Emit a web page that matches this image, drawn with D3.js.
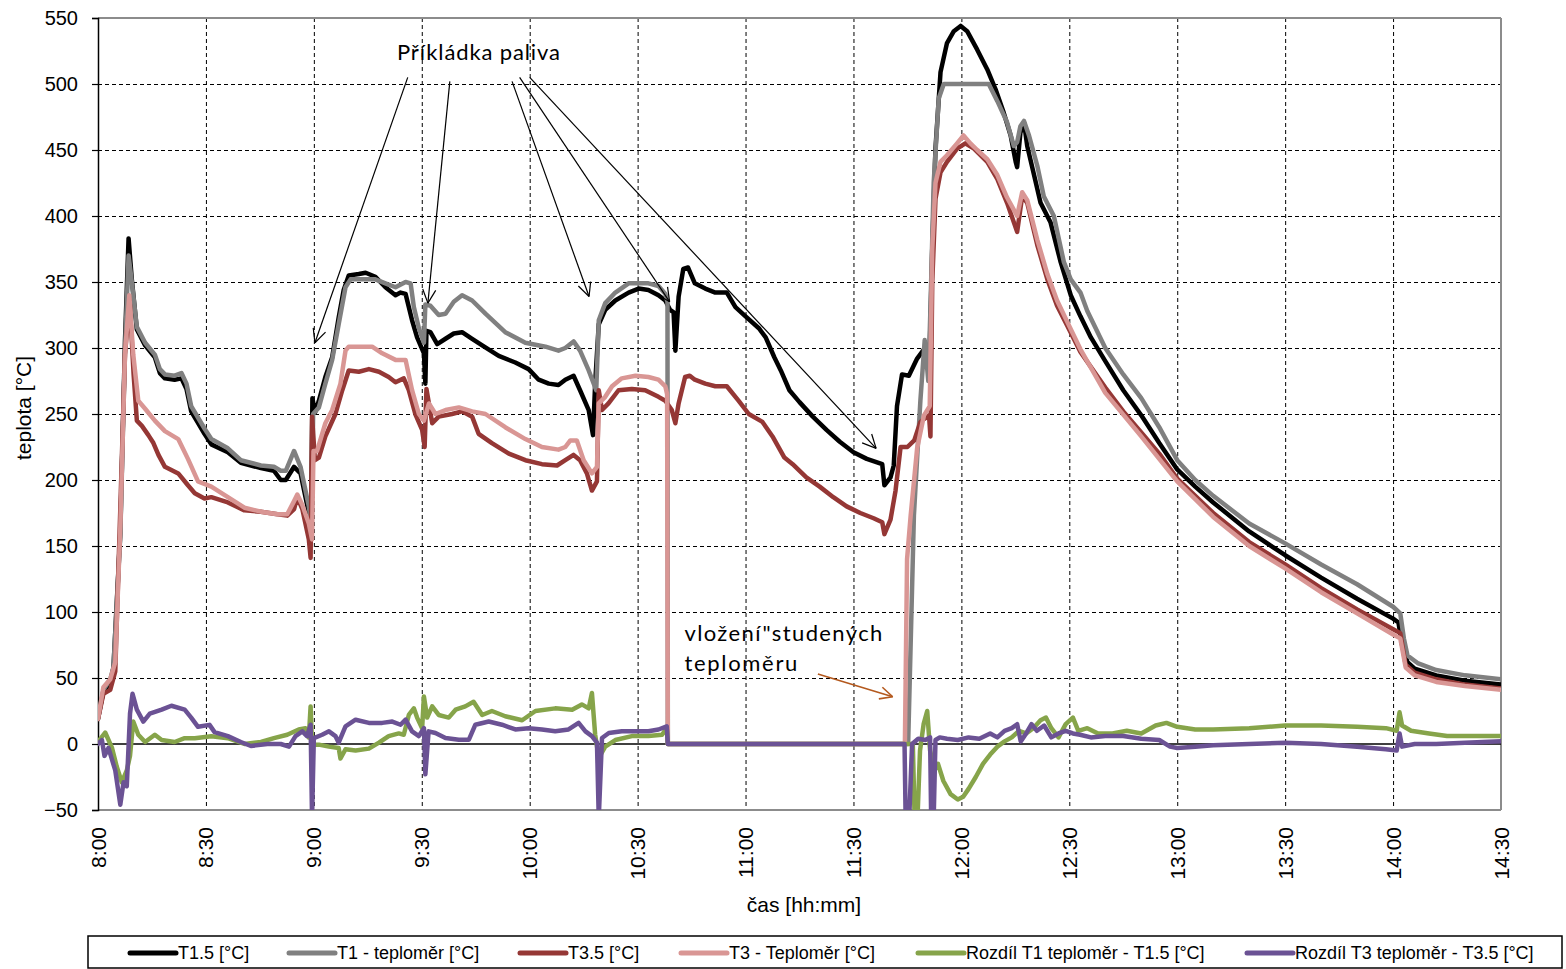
<!DOCTYPE html>
<html><head><meta charset="utf-8">
<script src="https://cdn.jsdelivr.net/npm/d3@7"></script>
<style>body{margin:0;background:#fff}svg{display:block}</style>
</head><body>
<svg id="c" width="1566" height="969"></svg>
<script>
// ---------- DATA (time = minutes after 8:00, value = °C) ----------
const xTickLabels = ["8:00","8:30","9:00","9:30","10:00","10:30","11:00","11:30","12:00","12:30","13:00","13:30","14:00","14:30"];
const yTickValues = [-50,0,50,100,150,200,250,300,350,400,450,500,550];
const seriesNames = ["T1.5 [°C]","T1 - teploměr [°C]","T3.5 [°C]","T3 - Teploměr [°C]","Rozdíl T1 teploměr - T1.5 [°C]","Rozdíl T3 teploměr - T3.5 [°C]"];

const T15 = [[0,19],[1.5,40],[3.4,46],[4.3,58],[6.2,160],[7.5,305],[8.5,383],[9.4,352],[10.8,314],[13.1,302],[15.8,293],[17.2,281],[18.6,277],[21.3,276],[23.2,277],[24.6,269],[25.9,252],[29.6,235],[31.5,227],[36.1,221],[39.7,213],[45.3,209],[48.9,207],[50.8,200],[52.2,200],[54.5,210],[56.3,205],[58.6,175],[59.2,155],[59.6,262],[60.3,251],[61.4,260],[63.2,278],[65.1,293],[66.9,323],[68.3,344],[69.7,355],[72.5,356],[74.4,357],[77.1,354],[79.9,346],[82.7,340],[84.1,342],[85.5,341],[87.3,321],[88.7,308],[90.6,296],[91,273],[91.3,313],[92.4,312],[94.3,303],[96.6,307],[98.9,311],[101.2,312],[104,307],[106.8,302],[111.4,294],[116,289],[119.7,284],[122.5,276],[125.3,273],[128,272],[129.9,276],[132.2,279],[134,268],[136.4,253],[137.6,234],[138.2,273],[139.2,318],[141,329],[143.8,336],[147.5,342],[150.3,345],[153,344],[155.8,340],[157.7,336],[159,329],[160,327],[160.5,298],[161.4,339],[162.7,360],[164,361],[165.9,349],[168.8,345],[171.6,342],[174.8,342],[177.2,331],[180,324],[183.7,315],[185.6,308],[188,293],[189.8,283],[192.2,268],[195,259],[198.7,248],[202.5,238],[206.2,229],[210,221],[213.7,216],[218,212],[218.6,196],[220.3,202],[221.2,211],[222.1,256],[223.5,280],[225.4,279],[227.7,292],[229.6,299],[230.5,300],[231,275],[231.9,375],[232.8,451],[234.2,509],[236,531],[237.9,540],[239.8,544],[241.6,540],[244.4,526],[247.2,511],[249.5,496],[251.8,478],[253.7,461],[255.1,441],[255.5,437],[256.4,463],[257.4,471],[258.3,453],[260.2,431],[262,410],[264.8,395],[267.6,365],[270.4,340],[273.1,324],[276,308],[280,290],[285,268],[290,249],[295,228],[300,208],[305,195],[310,183],[320,161],[330,143],[340,126],[350,110],[360,95],[361.5,92],[362.5,75],[364,62],[366,57],[372,52],[380,48],[390,45]];

const T1 = [[0,19],[1.5,41],[3.4,49],[4.3,58],[6.2,158],[7.5,298],[8.5,370],[9.4,350],[10.8,316],[13.1,304],[15.8,295],[17.2,284],[18.6,280],[21.3,279],[23.2,281],[24.6,273],[25.9,256],[29.6,239],[31.5,231],[36.1,224],[39.7,215],[45.3,211],[48.9,210],[50.8,207],[52.2,207],[54.5,222],[56.3,210],[58.6,180],[59.4,165],[59.8,250],[61.4,255],[63.2,273],[65.1,291],[66.9,318],[68.8,346],[70.2,352],[74.4,352],[77.1,352],[79.9,349],[82.7,346],[85.5,350],[86.9,349],[87.8,331],[89.2,315],[90.6,304],[91,333],[92.4,332],[94.7,325],[96.6,326],[98.9,335],[101.2,340],[104,336],[107.7,326],[113.2,312],[118.8,304],[124.4,301],[128,298],[129.9,300],[132.2,305],[134,298],[136.4,283],[137.8,273],[138.5,268],[139.2,321],[141,334],[143.8,342],[147.5,349],[153,349],[155.8,347],[157.7,341],[158.3,335],[158.4,0],[225.2,0],[226.8,173],[228.6,260],[229.8,306],[230.8,275],[231.4,330],[232.3,425],[233.7,489],[235.1,500],[247.6,500],[250,487],[252.7,471],[254.6,453],[255.5,456],[256.4,468],[257.4,472],[258.8,461],[261.1,438],[262.9,415],[265.7,400],[268.5,365],[270.4,352],[273.1,342],[275,328],[280,300],[285,280],[290,262],[295,240],[300,215],[305,200],[310,188],[320,167],[330,152],[340,136],[350,121],[360,104],[362,99],[363,80],[364,67],[367,61],[372,56],[380,52],[390,49]];

const T35 = [[0,19],[1.5,38],[3.4,41],[4.8,55],[6.2,178],[7.5,295],[8.8,336],[9.9,280],[10.8,245],[12.2,241],[14,234],[15.4,228],[16.8,219],[18.6,210],[22.3,205],[25,196],[26.9,190],[29.6,186],[31.5,187],[36.1,183],[40.7,177],[45.3,176],[49.9,174],[52.6,173],[54.5,178],[55.4,187],[56.8,178],[58.6,155],[59.1,141],[59.5,248],[60.3,215],[61.4,217],[63.2,233],[66,250],[67.9,268],[69.7,283],[72.5,282],[75.3,284],[78.1,282],[80.8,278],[82.7,274],[85,277],[86.4,268],[88.2,250],[90.1,238],[90.8,225],[91.3,269],[92.9,243],[94.7,248],[98.4,250],[101.2,252],[104,248],[105.8,235],[109.5,228],[114.2,220],[118.8,215],[123.4,212],[127.6,211],[129.9,215],[132.2,219],[134,215],[135.9,205],[137.3,192],[138.7,199],[139.2,268],[140.1,253],[141.9,258],[144.7,268],[148.4,269],[152.1,268],[155.8,263],[157.7,260],[159.5,253],[160.5,243],[161.4,258],[163.2,278],[164.5,279],[165.9,276],[168.8,273],[171.6,271],[174.8,271],[178.1,260],[180.9,250],[184.7,244],[187.5,233],[190.8,217],[193.1,212],[196.9,202],[200.6,195],[204.4,187],[208.1,180],[211.9,175],[215.6,171],[218,168],[218.6,159],[220.3,170],[221.7,192],[223.1,225],[225,225],[226.9,230],[228.6,244],[231,249],[231.4,233],[231.9,350],[232.8,413],[234.2,433],[236,441],[238.8,451],[241.1,455],[243.5,451],[247.2,441],[250,428],[252.7,410],[255.5,388],[256.9,415],[258.3,410],[261.1,378],[263.9,352],[266.6,332],[269.4,317],[273.1,297],[280,270],[285,252],[290,236],[295,220],[300,201],[310,175],[320,153],[330,136],[340,118],[350,102],[360,87],[362,84],[363.5,60],[366,54],[372,49],[380,45],[390,42]];

const T3 = [[0,19],[1.5,43],[3.4,49],[4.8,62],[6.2,164],[7.5,295],[8.7,340],[9.8,295],[11.2,260],[13.1,254],[15.8,245],[18.6,237],[22.3,231],[25,216],[27.8,199],[31.5,195],[36.1,187],[40.7,179],[45.3,176],[49.9,174],[52.6,174],[54.5,184],[55.4,189],[56.8,181],[58.6,167],[59.5,155],[59.9,222],[60.9,222],[63.2,243],[65.1,253],[67.4,273],[68.8,298],[69.7,301],[76.2,301],[79,296],[82.7,291],[85.5,291],[87.3,268],[89.2,250],[90.6,245],[92,258],[93.8,250],[96.6,253],[100.3,255],[104,252],[107.7,250],[113.2,240],[118.8,231],[123.4,225],[128,223],[129.9,225],[131.3,230],[133.1,230],[135,215],[137.3,205],[138.7,210],[139.2,258],[141,263],[142.9,271],[145.6,277],[149.4,279],[153,278],[155.8,276],[157.7,271],[158.2,265],[158.4,0],[224.3,0],[224.9,140],[225.9,173],[227.7,224],[229.6,249],[231.2,256],[231.9,375],[232.8,425],[234.2,441],[236,446],[238.8,455],[240.6,461],[242.5,455],[244.4,450],[247.2,443],[250,431],[252.7,414],[255.5,400],[256.9,418],[258.3,412],[261.1,382],[263.9,356],[266.6,336],[269.4,320],[273.1,299],[280,266],[290,233],[300,199],[310,172],[320,150],[330,133],[340,115],[350,99],[360,83],[362,80],[363.5,58],[366,52],[372,47],[380,44],[390,41]];

const D1 = [[0,1.5],[2,8.7],[3.9,-3],[5.2,-17],[6.6,-29],[8,-20],[8.9,-9],[9.8,17],[11.2,7],[13.1,1.5],[15.8,7],[17.7,3],[21.3,1.5],[24.1,4.4],[26.9,4.4],[31.5,5.8],[36.1,4.4],[40.7,0],[45.3,1.5],[48.9,4.4],[52.6,7],[55.8,11],[57.7,12],[58.6,5],[59.1,28.5],[59.5,-0.5],[61.4,-0.5],[64.2,-2],[66.9,-3],[67.4,-11],[68.8,-4],[71.6,-5],[75.3,-3.5],[78.1,1],[80.8,6],[83.6,8],[85,7],[86.4,22],[87.8,27],[88.7,20],[90.1,12],[90.6,36],[91.5,20],[92.9,28.5],[94.7,22],[97.5,20],[99.4,26],[102.1,28.5],[104.4,32],[106.8,22],[109.5,25],[113.2,21],[117.9,18],[121.6,25],[127.1,27],[131.8,26],[134.5,30],[136.4,27],[137.3,38.6],[138.2,7],[139.2,-10.6],[141,-2],[143.8,3],[148.4,6],[153,6],[156.8,7],[158.1,12],[158.4,0],[226.5,0],[227,-56],[227.8,-56],[228.5,-5],[229.5,15],[230.5,25],[231.3,-5],[232.5,-20],[233.5,-15],[235,-28],[237,-38],[239,-42],[240.5,-40],[242,-34],[244,-25],[246,-15],[248,-8],[250,-2],[252,2],[254,5],[256,10],[258,8],[260,12],[262,18],[263.5,20],[265,12],[267,5],[269,15],[271,20],[272.5,10],[275,12],[278,8],[282,8],[286,10],[290,8],[294,14],[297,16],[300,13],[305,11],[310,11],[320,12],[330,14],[340,14],[350,13],[358,12],[361,10],[361.8,24],[362.5,14],[365,10],[370,8],[375,6],[380,6],[385,6],[390,6]];

const D3 = [[0,0],[1.1,3],[1.8,-9],[2.9,-3],[4.8,-20],[6.2,-46],[7.1,-29],[8,-32],[8.9,23],[9.6,38],[10.8,26],[12.6,17],[14.4,23],[17.7,26],[20.4,29],[24.1,26],[25.9,20],[27.8,13],[31,14.5],[32.4,9],[36.1,6],[39.7,1.5],[42.5,-1.5],[47.1,0],[50.8,0],[53.1,-2],[54.9,6],[56.8,9.6],[58.1,6],[59.1,14.6],[59.5,-56],[60,4.5],[62.3,7],[64.2,9.6],[66,6],[66.9,1],[68.8,13.4],[71.6,18.4],[75.3,16],[79,16],[81.8,17],[84.1,14.6],[85.5,18.4],[87.3,9.6],[89.2,6],[90.6,12],[91,-23],[91.9,9.6],[93.8,8.3],[96.6,4.5],[100.3,3.3],[103.1,3.3],[104.9,14.6],[108.6,17],[112.3,14.6],[116,11],[119.7,12],[123.4,11],[127.1,9.6],[130.8,11],[133.6,16],[135.5,9.6],[137.3,6],[138.7,1],[139.2,-56],[140.1,4.5],[142,8.3],[145.6,9.6],[149.4,9.6],[153,9.6],[155.8,11],[158.1,13.4],[158.4,0],[224.2,0],[224.5,-56],[225.5,-56],[226.3,0],[228,4],[230,3],[231.3,5],[231.6,-56],[232.3,-56],[232.8,3],[234,5],[236,4],[239,3],[242,5],[245,4],[248,8],[250,5],[252,10],[254,12],[255.5,15],[256.5,2],[258,8],[259.5,15],[261,10],[263,14],[265,5],[267,8],[269,10],[271,8],[273,7],[276,5],[280,6],[285,6],[290,4],[295,3],[298,-2],[300,-3],[305,-2],[310,-1],[320,0],[330,1],[340,0],[350,-2],[358,-4],[361,-5],[361.8,8],[362.5,-2],[366,0],[372,0],[380,1],[390,2]];

// annotation anchors in data units [minutes, °C]
const fuelLabel = [83.1, 518];
const fuelArrows = [[[86.1,505],[60.3,304]],[[97.8,502],[91.7,334]],[[115.1,502],[136.5,339]],[[117.2,505],[158.9,335]],[[120,505],[216.3,224]]];
const coldLabel = [163, 78];
const coldArrow = [[200.1,53],[220.9,35.8]];

// ---------- CHART ----------
const svg = d3.select("#c");
const FONT = "Arial, 'Liberation Sans', sans-serif";
const x = d3.scaleLinear().domain([0, 390]).range([98, 1501]);
const y = d3.scaleLinear().domain([-50, 550]).range([810, 18]);
const minutesOf = s => { const [h, m] = s.split(":").map(Number); return (h - 8) * 60 + m; };
const xTickVals = xTickLabels.map(minutesOf);

svg.append("defs").append("clipPath").attr("id","plot")
  .append("rect").attr("x", x(0)).attr("y", y(550)).attr("width", x(390)-x(0)).attr("height", y(-50)-y(550));

// gridlines
const grid = svg.append("g").attr("stroke","#000").attr("stroke-width",1).attr("stroke-dasharray","4,3");
grid.selectAll(".hg").data(yTickValues.filter(v => v > -50 && v < 550 && v !== 0)).join("line")
  .attr("x1", x(0)).attr("x2", x(390)).attr("y1", d => y(d) + 0.5).attr("y2", d => y(d) + 0.5);
grid.selectAll(".vg").data(xTickVals.filter(v => v > 0 && v < 390)).join("line")
  .attr("y1", y(550)).attr("y2", y(-50)).attr("x1", d => x(d) + 0.5).attr("x2", d => x(d) + 0.5);

// plot border (grey)
const border = svg.append("g").attr("stroke","#8c8c8c").attr("stroke-width",2).attr("fill","none");
border.append("line").attr("x1", x(0)).attr("x2", x(390)).attr("y1", y(550)).attr("y2", y(550));
border.append("line").attr("x1", x(0)).attr("x2", x(390)).attr("y1", y(-50)).attr("y2", y(-50));
border.append("line").attr("x1", x(390)).attr("x2", x(390)).attr("y1", y(550)).attr("y2", y(-50));

// zero line
svg.append("line").attr("x1", x(0)).attr("x2", x(390)).attr("y1", y(0)).attr("y2", y(0))
  .attr("stroke","#000").attr("stroke-width",1.5);

// y axis
const yAxis = svg.append("g").attr("transform", `translate(${x(0)},0)`)
  .call(d3.axisLeft(y).tickValues(yTickValues).tickSize(6).tickPadding(14).tickFormat(d3.format("d")));
yAxis.select(".domain").attr("stroke","#000").attr("stroke-width",1.5);
yAxis.selectAll(".tick line").attr("stroke","#000").attr("stroke-width",1.2);
yAxis.selectAll(".tick text").attr("font-family", FONT).attr("font-size", 20).attr("fill","#000");

// x tick labels (rotated)
svg.append("g").selectAll("text").data(xTickLabels).join("text")
  .attr("transform", d => `translate(${x(minutesOf(d))},827) rotate(-90)`)
  .attr("dy","0.36em").attr("text-anchor","end")
  .attr("font-family", FONT).attr("font-size", 21).attr("fill","#000").text(d => d);

// axis titles
svg.append("text").attr("x", 804).attr("y", 912).attr("text-anchor","middle")
  .attr("font-family", FONT).attr("font-size", 21).text("čas [hh:mm]");
svg.append("text").attr("transform","translate(31,408) rotate(-90)").attr("text-anchor","middle")
  .attr("font-family", FONT).attr("font-size", 21).text("teplota [°C]");

// series
const seriesData = [T15, T1, T35, T3, D1, D3];
const colors = ["#000000","#808080","#953735","#d99694","#86a44a","#6b5294"];
const line = d3.line().x(d => x(d[0])).y(d => y(d[1]));
const lines = svg.append("g").attr("clip-path","url(#plot)");
seriesData.forEach((s, i) => {
  lines.append("path").attr("d", line(s)).attr("fill","none")
    .attr("stroke", colors[i]).attr("stroke-width", 4.5).attr("stroke-linejoin","round").attr("stroke-linecap","round");
});

// annotations
function arrow(g, p0, p1, color, w, head) {
  const x0 = x(p0[0]), y0 = y(p0[1]), x1 = x(p1[0]), y1 = y(p1[1]);
  g.append("line").attr("x1", x0).attr("y1", y0).attr("x2", x1).attr("y2", y1)
    .attr("stroke", color).attr("stroke-width", w);
  const a = Math.atan2(y1 - y0, x1 - x0);
  [0.45, -0.45].forEach(o => {
    g.append("line").attr("x1", x1).attr("y1", y1)
      .attr("x2", x1 - head * Math.cos(a + o)).attr("y2", y1 - head * Math.sin(a + o))
      .attr("stroke", color).attr("stroke-width", w);
  });
}
const ann = svg.append("g");
ann.append("text").attr("x", x(fuelLabel[0])).attr("y", y(fuelLabel[1]))
  .attr("font-family","Lato, 'Open Sans', sans-serif").attr("font-size", 22).attr("fill","#000")
  .attr("textLength", 163).text("Příkládka paliva");
fuelArrows.forEach(a => arrow(ann, a[0], a[1], "#000", 1.2, 15));
const cold = ann.append("text").attr("x", x(coldLabel[0])).attr("y", y(coldLabel[1]))
  .attr("font-family","Lato, 'Open Sans', sans-serif").attr("font-size", 22).attr("fill","#000");
cold.append("tspan").attr("x", x(coldLabel[0])).attr("textLength", 198).text("vložení\"studených");
cold.append("tspan").attr("x", x(coldLabel[0])).attr("dy", 30).attr("textLength", 113).text("teploměru");
arrow(ann, coldArrow[0], coldArrow[1], "#b4591e", 1.6, 14);

// legend
const lg = svg.append("g");
lg.append("rect").attr("x", 88).attr("y", 936).attr("width", 1474).attr("height", 32)
  .attr("fill","#fff").attr("stroke","#000").attr("stroke-width",1.5);
const legendX = [130, 289, 520, 681, 918, 1247];
seriesNames.forEach((n, i) => {
  lg.append("line").attr("x1", legendX[i]).attr("x2", legendX[i] + 46).attr("y1", 953).attr("y2", 953)
    .attr("stroke", colors[i]).attr("stroke-width", 5).attr("stroke-linecap","round");
  lg.append("text").attr("x", legendX[i] + 48).attr("y", 953).attr("dy","0.35em")
    .attr("font-family", FONT).attr("font-size", 18).attr("fill","#000").text(n);
});
</script>
</body></html>
